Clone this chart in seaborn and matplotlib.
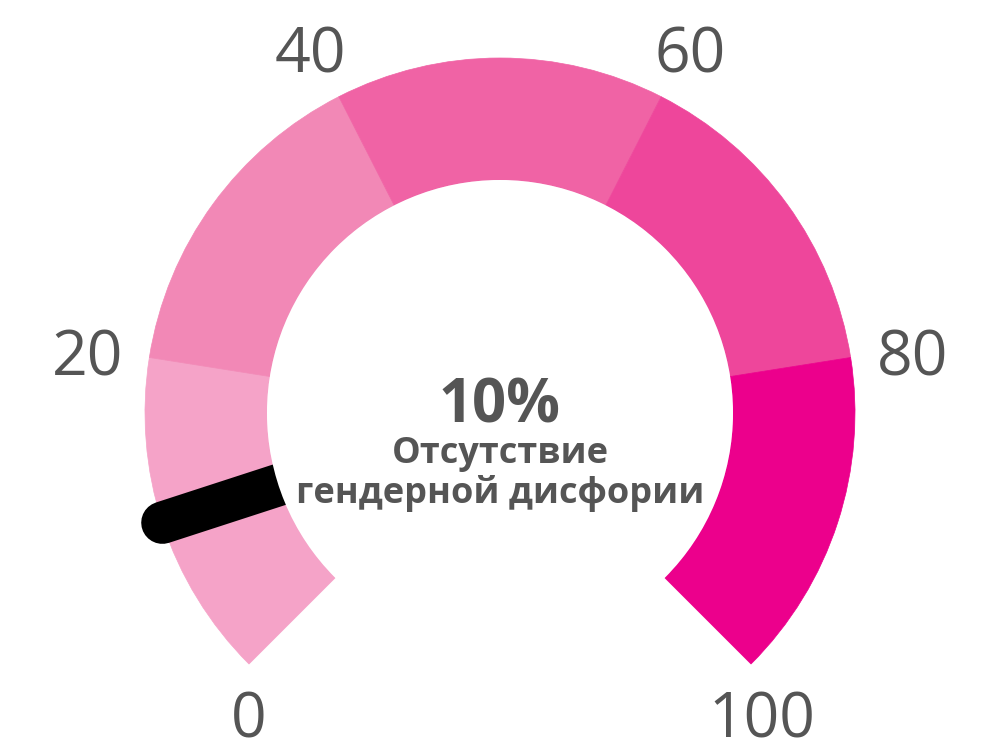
import numpy as np
import seaborn as sns
import matplotlib.pyplot as plt
from matplotlib.patches import Wedge, Circle

# gauge data
band_edges = [0, 20, 40, 60, 80, 100]
band_colors = ["#F5A3C8", "#F288B6", "#F063A5", "#EE469B", "#EC008C"]
tick_values = [0, 20, 40, 60, 80, 100]
tick_labels = ["0", "20", "40", "60", "80", "100"]
needle_value = 10
value_text = "10%"
caption_lines = ["Отсутствие", "гендерной дисфории"]

sns.set_theme(style="white")
plt.rcParams["font.family"] = ["Open Sans", "DejaVu Sans"]

text_color = "#555555"
cx, cy = 500, 340          # gauge centre in pixel-like data units
r_out, r_in = 355, 233
start_angle, sweep = 225, 270


def to_angle(v):
    return start_angle - (v - band_edges[0]) / (band_edges[-1] - band_edges[0]) * sweep


fig = plt.figure(figsize=(10, 7.53), dpi=100)
ax = fig.add_axes([0, 0, 1, 1])
ax.set_xlim(0, 1000)
ax.set_ylim(0, 753)
ax.set_aspect("equal")
ax.set_axis_off()

# coloured bands
for lo, hi, col in zip(band_edges[:-1], band_edges[1:], band_colors):
    ax.add_patch(Wedge((cx, cy), r_out, to_angle(hi), to_angle(lo),
                       width=r_out - r_in, facecolor=col, edgecolor=col, lw=0.5, zorder=1))

# needle, drawn from the centre and hidden by the inner disc
a = np.deg2rad(to_angle(needle_value))
ax.plot([cx, cx + r_out * np.cos(a)], [cy, cy + r_out * np.sin(a)],
        color="black", lw=30.5, solid_capstyle="round", zorder=2)
ax.add_patch(Circle((cx, cy), r_in, facecolor="white", edgecolor="none", zorder=3))

# tick labels around the arc
for v, lab in zip(tick_values, tick_labels):
    t = np.deg2rad(to_angle(v))
    px, py = cx + r_out * np.cos(t), cy + r_out * np.sin(t)
    if v in (band_edges[0], band_edges[-1]):
        lx, ly = px + (11 if v == band_edges[-1] else 0), py - 51
    else:
        lx, ly = px + 63 * np.cos(t), py + 57 * np.sin(t) - 5
    ax.text(lx, ly - 22, lab, ha="center", va="baseline", fontsize=45,
            color=text_color, zorder=4)

# central value and caption
ax.text(cx, 331, value_text, ha="center", va="baseline", fontsize=43,
        fontweight="bold", color=text_color, zorder=4)
ax.text(cx, 290, caption_lines[0], ha="center", va="baseline", fontsize=26,
        fontweight="bold", color=text_color, zorder=4)
ax.text(cx, 250, caption_lines[1], ha="center", va="baseline", fontsize=26,
        fontweight="bold", color=text_color, zorder=4)

fig.savefig("out.png", dpi=100, facecolor="white")
